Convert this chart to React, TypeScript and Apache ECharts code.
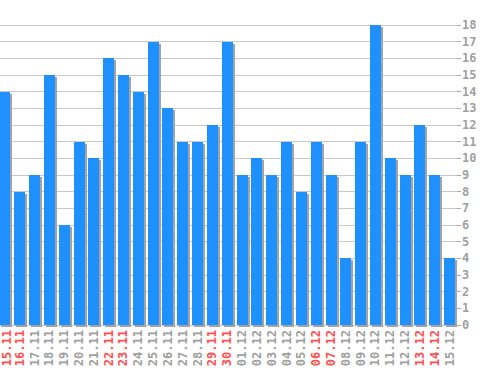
import React, { useEffect, useRef } from "react";
import * as echarts from "echarts";

const categories = [
  "15.11", "16.11", "17.11", "18.11", "19.11", "20.11", "21.11", "22.11", "23.11", "24.11",
  "25.11", "26.11", "27.11", "28.11", "29.11", "30.11", "01.12", "02.12", "03.12", "04.12",
  "05.12", "06.12", "07.12", "08.12", "09.12", "10.12", "11.12", "12.12", "13.12", "14.12", "15.12",
];
const values = [14, 8, 9, 15, 6, 11, 10, 16, 15, 14, 17, 13, 11, 11, 12, 17, 9, 10, 9, 11, 8, 11, 9, 4, 11, 18, 10, 9, 12, 9, 4];
const weekendLabels = ["15.11", "16.11", "22.11", "23.11", "29.11", "30.11", "06.12", "07.12", "13.12", "14.12"];

const labelFont = { fontFamily: "DejaVu Sans Mono", fontWeight: "bold" as const, fontSize: 12 };

export default function App() {
  const ref = useRef<HTMLDivElement>(null);
  useEffect(() => {
    if (!ref.current) return;
    const chart = echarts.init(ref.current, undefined, { renderer: "svg" });
    chart.setOption({
      animation: false,
      grid: { left: -2.5, right: 41, top: 25, bottom: 45, containLabel: false, outerBoundsMode: "none" },
      xAxis: {
        type: "category",
        data: categories,
        axisLine: { show: false },
        axisTick: { show: false },
        axisLabel: {
          rotate: 90,
          interval: 0,
          margin: 5,
          ...labelFont,
          formatter: (v: string, i: number) => (i === 0 ? `{f|${v}}` : v),
          rich: { f: { ...labelFont, color: "#ff5050", padding: [5, 0, 0, 0] } },
          color: (v: string) => (weekendLabels.includes(v) ? "#ff5050" : "#a0a0a0"),
        },
      },
      yAxis: {
        type: "value",
        position: "right",
        min: 0,
        max: 18,
        interval: 1,
        axisLine: { show: false },
        axisTick: { show: true, length: 4, lineStyle: { color: "#aaaaaa" } },
        splitLine: { show: true, lineStyle: { color: "#c8c8c8", width: 1 } },
        axisLabel: {
          margin: 5,
          ...labelFont,
          color: "#a0a0a0",
        },
      },
      series: [
        {
          type: "custom",
          data: values.map((v, i) => [i, v]),
          encode: { x: 0, y: 1 },
          renderItem: (params: any, api: any) => {
            const top = api.coord([api.value(0), api.value(1)]);
            const base = api.coord([api.value(0), 0]);
            const w = 11;
            const x = Math.round(top[0] - w / 2);
            const y = Math.round(top[1]);
            const h = Math.round(base[1]) - y;
            return {
              type: "group",
              children: [
                {
                  type: "rect",
                  shape: { x: x + 2, y: y + 2, width: w, height: h },
                  style: { fill: "#a3a3a3" },
                },
                {
                  type: "rect",
                  shape: { x, y, width: w, height: h },
                  style: { fill: "#1e90ff" },
                },
              ],
            };
          },
        },
      ],
    });
    return () => chart.dispose();
  }, []);
  return (
    <div
      ref={ref}
      style={{ position: "fixed", left: 0, top: 0, width: 498, height: 370, background: "#ffffff" }}
    />
  );
}
